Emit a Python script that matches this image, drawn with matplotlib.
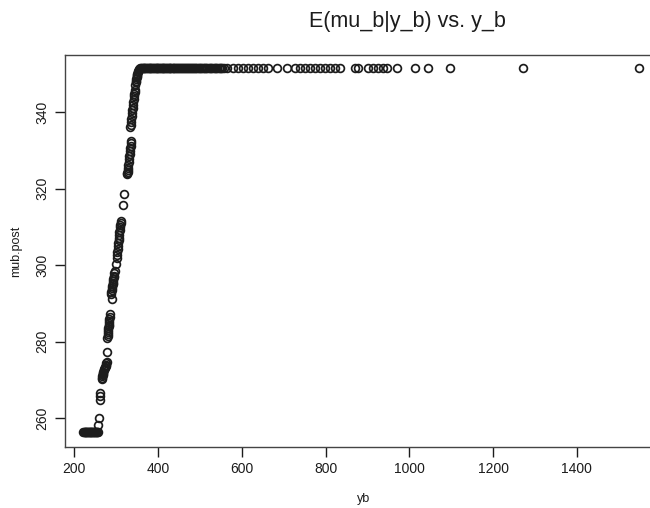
import matplotlib
matplotlib.use("Agg")
import matplotlib.pyplot as plt

plt.rcParams["font.family"] = ["Liberation Sans", "DejaVu Sans"]

# Lower flat run of posterior means
low_x = [222, 223.5, 225, 226.5, 228, 229.5, 231, 232.5, 234, 235.5, 237,
         238.5, 240, 241.5, 243, 244.5, 246, 247.5, 249, 250.5, 252, 253.5,
         255, 256.5]
low_y = [256.3] * len(low_x)

# Steep rise between the two bounds
rise_x = [257.8, 260.5, 262.5, 262.8, 263.0, 265.5, 266.3, 267.0, 267.8,
          268.5, 269.2, 270.0, 271.0, 272.0, 273.0, 274.0, 275.0, 276.0,
          277.0, 277.7, 278.5, 279.5, 280.0, 280.5, 281.0, 281.5, 282.0,
          282.5, 283.0, 283.5, 284.0, 284.5, 285.0, 285.7, 288.0, 288.8,
          289.5, 290.2, 291.0, 291.3, 291.8, 292.5, 293.2, 294.0, 294.8,
          295.5, 296.2, 297.0, 300.5, 301.5, 302.2, 303.0, 303.8, 304.5,
          305.2, 306.0, 306.8, 307.5, 308.2, 309.0, 309.8, 310.5, 311.2,
          312.0, 317.6, 318.0, 326.0, 326.8, 327.5, 328.2, 329.0, 329.8,
          330.5, 331.2, 332.0, 332.8, 333.5, 334.2, 335.0, 336.0, 337.0,
          334.5, 335.2, 336.0, 336.8, 337.5, 338.2, 339.0, 339.8, 340.5,
          341.2, 342.0, 342.8, 343.5, 344.2, 345.0, 346.0, 346.8, 347.5,
          348.2, 349.0, 349.8, 350.5, 351.2, 352.0, 353.0, 354.0]
rise_y = [258.2, 260.0, 264.8, 265.7, 266.6, 270.2, 270.6, 271.0, 271.3,
          271.6, 271.9, 272.2, 272.5, 272.8, 273.1, 273.4, 273.7, 274.0,
          274.4, 274.8, 277.3, 281.0, 281.5, 282.0, 282.5, 283.0, 283.5,
          284.0, 284.5, 285.0, 285.5, 286.0, 286.6, 287.2, 292.6, 293.0,
          293.5, 294.0, 294.5, 291.3, 295.0, 295.5, 296.0, 296.5, 296.9,
          297.3, 297.9, 298.5, 300.3, 302.0, 302.8, 303.5, 304.2, 305.0,
          305.8, 306.5, 307.2, 308.0, 308.6, 309.2, 309.9, 310.5, 311.1,
          311.7, 315.8, 318.7, 323.9, 324.2, 324.5, 325.0, 325.5, 326.2,
          327.0, 327.7, 328.5, 329.2, 330.0, 330.6, 331.3, 331.9, 332.5,
          336.1, 336.8, 337.5, 338.2, 339.0, 339.8, 340.5, 341.2, 342.0,
          342.8, 343.5, 344.2, 344.8, 345.3, 345.8, 347.2, 347.8, 348.3,
          348.8, 349.2, 349.5, 349.8, 350.1, 350.5, 350.8, 351.0]

# Upper plateau
top_x = [356, 358, 360, 362, 364, 366, 368, 370, 372, 374, 376, 378, 380,
         382, 384, 386, 388, 391, 393, 395, 397, 399, 401, 403, 405, 407,
         409, 411, 413, 415, 417, 419, 421, 423, 426, 428, 430, 432, 435,
         437, 439, 441, 444, 446, 449, 451, 453, 455, 458, 460, 463, 465,
         467, 469, 472, 474, 477, 479, 482, 484, 487, 489, 492, 494, 497,
         499, 502, 504, 507, 509, 512, 515, 518, 521, 524, 527, 530, 533,
         536, 539, 542, 545, 548, 551, 554, 557, 565, 579, 591, 603, 615,
         627, 639, 651, 663, 684, 707, 727, 739, 751, 763, 775, 787, 799,
         811, 823, 835, 870, 878, 902, 914, 926, 938, 947, 970, 1014, 1045,
         1097, 1272, 1547]
top_y = [351.3] + [351.5] * (len(top_x) - 1)

yb = low_x + rise_x + top_x
mub_post = low_y + rise_y + top_y

x_ticks = [200, 400, 600, 800, 1000, 1200, 1400]
y_ticks = [260, 280, 300, 320, 340]

ink = "#1c1c1c"

fig = plt.figure(figsize=(6.5, 5.08), dpi=100)
ax = fig.add_axes([0.10, 0.1201, 0.9197, 0.7707])

ax.plot(yb, mub_post, linestyle="none", marker="o", markersize=5.6,
        markerfacecolor="none", markeredgecolor=ink, markeredgewidth=1.25)

ax.set_xlim(178.3, 1605)
ax.set_ylim(252.5, 354.85)
ax.set_xticks(x_ticks)
ax.set_yticks(y_ticks)
ax.set_xticklabels([str(v) for v in x_ticks], fontsize=10, color=ink)
ax.set_yticklabels([str(v) for v in y_ticks], fontsize=10, color=ink,
                   rotation=90, va="center")
ax.tick_params(direction="out", length=7, width=1.0, colors=ink, pad=4)
for s in ax.spines.values():
    s.set_color("#444444")
    s.set_linewidth(1.0)

ax.set_xlabel("yb", fontsize=9, color=ink, labelpad=12)
ax.set_ylabel("mub.post", fontsize=9, color=ink, labelpad=10)

fig.text(407 / 650, 1 - 22 / 508, "E(mu_b|y_b) vs. y_b", fontsize=15.5,
         color=ink, ha="center", va="center")

fig.savefig("out.png", dpi=100)
